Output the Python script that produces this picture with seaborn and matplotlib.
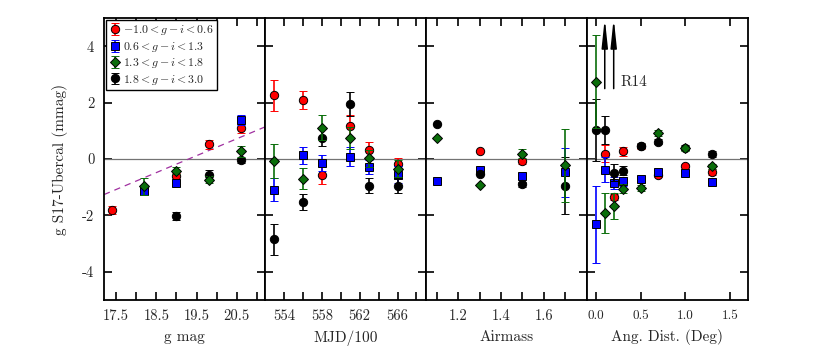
import numpy as np
import pandas as pd
import matplotlib
matplotlib.use('Agg')
import matplotlib.pyplot as plt
import seaborn as sns

nan = np.nan

# panel 1: g mag
gmag_x = [17.4, 18.2, 19.0, 19.8, 20.6]
gmag_red = [-1.80, nan, -0.60, 0.52, 1.09]
gmag_red_err = [0.14, 0, 0.12, 0.16, 0.15]
gmag_blue = [nan, -1.14, -0.85, nan, 1.39]
gmag_blue_err = [0, 0.1, 0.1, 0, 0.18]
gmag_green = [nan, -0.96, -0.41, -0.73, 0.27]
gmag_green_err = [0, 0.3, 0.12, 0.12, 0.2]
gmag_black = [nan, nan, -2.02, -0.55, -0.05]
gmag_black_err = [0, 0, 0.15, 0.15, 0.1]
fit_x = [17.2, 21.2]
fit_y = [-1.26, 1.14]

# panel 2: MJD/100
mjd_x = [553, 556, 558, 561, 563, 566]
mjd_red = [2.27, 2.09, -0.55, 1.18, 0.33, -0.16]
mjd_red_err = [0.55, 0.33, 0.35, 0.4, 0.26, 0.2]
mjd_blue = [-1.08, 0.13, -0.14, 0.09, -0.28, -0.55]
mjd_blue_err = [0.4, 0.3, 0.3, 0.35, 0.25, 0.3]
mjd_green = [-0.06, -0.69, 1.12, 0.75, 0.03, -0.35]
mjd_green_err = [0.6, 0.38, 0.44, 0.4, 0.3, 0.3]
mjd_black = [-2.85, -1.53, 0.76, 1.95, -0.94, -0.94]
mjd_black_err = [0.55, 0.28, 0.3, 0.43, 0.27, 0.27]

# panel 3: airmass
air_x = [1.1, 1.3, 1.5, 1.7]
air_red = [nan, 0.29, -0.08, nan]
air_red_err = [0, 0, 0.1, 0]
air_blue = [-0.79, -0.40, -0.61, -0.47]
air_blue_err = [0, 0, 0.1, 0.86]
air_green = [0.76, -0.93, 0.19, -0.22]
air_green_err = [0, 0, 0.15, 1.3]
air_black = [1.24, -0.53, -0.90, -0.94]
air_black_err = [0, 0, 0.1, 1.0]

# panel 4: angular distance
ang_x = [0.0, 0.1, 0.2, 0.3, 0.5, 0.7, 1.0, 1.3]
ang_red = [nan, 0.19, -1.35, 0.27, 0.45, -0.55, -0.26, -0.46]
ang_red_err = [0, 0.3, 0.1, 0.15, 0.1, 0.1, 0.1, 0.1]
ang_blue = [-2.32, -0.38, -0.85, -0.79, -0.69, -0.46, -0.49, -0.82]
ang_blue_err = [1.37, 0.45, 0.2, 0.15, 0.1, 0.1, 0.1, 0.1]
ang_green = [2.74, -1.91, -1.67, -1.05, -1.02, 0.92, 0.38, -0.26]
ang_green_err = [1.65, 0.7, 0.45, 0.15, 0.1, 0.1, 0.1, 0.1]
ang_black = [1.04, 1.04, -0.49, -0.41, 0.48, 0.62, 0.41, 0.18]
ang_black_err = [1.1, 0.5, 0.3, 0.15, 0.1, 0.1, 0.1, 0.1]
arrow_x = [0.1, 0.2]
arrow_base = 2.5

labels = [r'$-1.0 < g - i < 0.6$', r'$0.6 < g - i < 1.3$',
          r'$1.3 < g - i < 1.8$', r'$1.8 < g - i < 3.0$']

sns.set_style('ticks')
plt.rcParams['font.family'] = ['cmr10', 'DejaVu Serif']
plt.rcParams['mathtext.fontset'] = 'cm'
plt.rcParams['axes.unicode_minus'] = False
plt.rcParams['axes.formatter.use_mathtext'] = True

# drawing order: red, blue, black, green
sty = {'red': dict(marker='o', mfc='red', ecolor='red', ms=6),
       'blue': dict(marker='s', mfc='blue', ecolor='blue', ms=5.8),
       'green': dict(marker='D', mfc='#0a6e0a', ecolor='#0a6e0a', ms=5.6),
       'black': dict(marker='o', mfc='black', ecolor='black', ms=6)}

panels = [
    (gmag_x, gmag_red, gmag_red_err, gmag_blue, gmag_blue_err, gmag_green, gmag_green_err, gmag_black, gmag_black_err),
    (mjd_x, mjd_red, mjd_red_err, mjd_blue, mjd_blue_err, mjd_green, mjd_green_err, mjd_black, mjd_black_err),
    (air_x, air_red, air_red_err, air_blue, air_blue_err, air_green, air_green_err, air_black, air_black_err),
    (ang_x, ang_red, ang_red_err, ang_blue, ang_blue_err, ang_green, ang_green_err, ang_black, ang_black_err),
]

fig, axes = plt.subplots(1, 4, figsize=(8.3, 3.63), dpi=100, sharey=True)
fig.subplots_adjust(left=0.1253, right=0.901, top=0.950, bottom=0.1736, wspace=0)

handles = {}
for i, (ax, p) in enumerate(zip(axes, panels)):
    x = p[0]
    series = {'red': (p[1], p[2]), 'blue': (p[3], p[4]),
              'green': (p[5], p[6]), 'black': (p[7], p[8])}
    ax.axhline(0, color='0.45', lw=0.9, zorder=1)
    for z, name in enumerate(['red', 'blue', 'black', 'green']):
        y, e = series[name]
        s = sty[name]
        h = ax.errorbar(x, y, yerr=e, fmt=s['marker'], ms=s['ms'], mfc=s['mfc'],
                        mec='black', mew=0.7, ecolor=s['ecolor'], elinewidth=1.2,
                        capsize=2.8, capthick=1.2, zorder=3 + z)
        handles[name] = h
    for sp in ax.spines.values():
        sp.set_linewidth(1.3)
        sp.set_color('black')
    ax.tick_params(which='both', direction='in', top=True, right=True, length=6,
                   width=1.2, labelsize=10.5, pad=7, color='black')

ax1, ax2, ax3, ax4 = axes

fit = pd.DataFrame({'x': fit_x, 'y': fit_y})
sns.lineplot(data=fit, x='x', y='y', ax=ax1, color='#a030a0', lw=0.9,
             linestyle=(0, (5, 4)), zorder=2)

ax1.set_xlim(17.2, 21.2)
ax1.set_xticks([17.5, 18.5, 19.5, 20.5])
ax1.set_xticklabels(['17.5', '18.5', '19.5', '20.5'])
ax1.set_xticks([18.0, 19.0, 20.0, 21.0], minor=True)

ax2.set_xlim(552, 569)
ax2.set_xticks([554, 558, 562, 566])
ax2.set_xticklabels(['554', '558', '562', '566'])
ax2.set_xticks([556, 560, 564, 568], minor=True)

ax3.set_xlim(1.05, 1.8)
ax3.set_xticks([1.2, 1.4, 1.6])
ax3.set_xticklabels(['1.2', '1.4', '1.6'])
ax3.set_xticks([1.1, 1.3, 1.5, 1.7], minor=True)

ax4.set_xlim(-0.1, 1.7)
ax4.set_xticks([0.0, 0.5, 1.0, 1.5])
ax4.set_xticklabels(['0.0', '0.5', '1.0', '1.5'], fontsize=9.5)

ax1.set_ylim(-5, 5)
ax1.set_yticks([-4, -2, 0, 2, 4])
ax1.set_yticklabels(['-4', '-2', '0', '2', '4'])
ax1.set_ylabel('g S17-Ubercal (mmag)', fontsize=11, labelpad=10)

for ax, lab in zip(axes, ['g mag', 'MJD/100', 'Airmass', 'Ang. Dist. (Deg)']):
    ax.set_xlabel(lab, fontsize=11, labelpad=5)

for ax_x in arrow_x:
    ax4.annotate('', xy=(ax_x, 5.0), xytext=(ax_x, arrow_base),
                 arrowprops=dict(arrowstyle='-|>,head_length=1.7,head_width=0.18',
                                 color='black', lw=1.1, mutation_scale=10,
                                 shrinkA=0, shrinkB=0),
                 annotation_clip=False, zorder=8)
ax4.text(0.27, 2.72, 'R14', fontsize=11, va='center', ha='left')

leg = ax1.legend([handles['red'], handles['blue'], handles['green'], handles['black']],
                 labels, loc='upper left', fontsize=8.5, frameon=True, fancybox=False,
                 borderaxespad=0.15, handlelength=0.9, handletextpad=0.3,
                 labelspacing=0.2, borderpad=0.3)
leg.get_frame().set_edgecolor('black')
leg.get_frame().set_linewidth(1.0)
leg.get_frame().set_alpha(1)
leg.set_zorder(10)

plt.savefig('out.png', dpi=100)
